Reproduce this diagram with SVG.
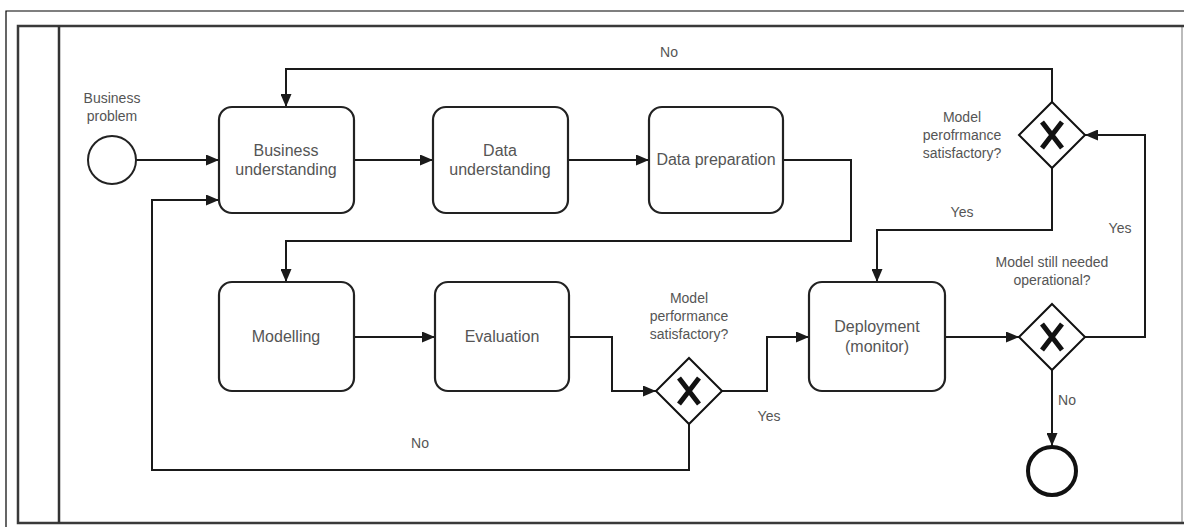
<svg xmlns="http://www.w3.org/2000/svg" width="1184" height="527" viewBox="0 0 1184 527">
<style>
.thin{fill:none;stroke:#000;stroke-width:1.2}
.task{fill:#fff;stroke:#222;stroke-width:2.2}
.gw{fill:#fff;stroke:#111;stroke-width:2}
.gx{fill:none;stroke:#111;stroke-width:5;stroke-linecap:butt}
.ev{fill:#fff;stroke:#222;stroke-width:2}
.evend{fill:#fff;stroke:#111;stroke-width:4}
.edge{fill:none;stroke:#1a1a1a;stroke-width:2}
.t{font-family:"Liberation Sans",Arial,sans-serif;font-size:16px;fill:#555;text-anchor:middle}
.l{font-family:"Liberation Sans",Arial,sans-serif;font-size:14px;fill:#555;text-anchor:middle}
</style>
<defs>
<marker id="arr" viewBox="0 0 13 11" refX="13" refY="5.5" markerWidth="13" markerHeight="11" markerUnits="userSpaceOnUse" orient="auto">
<path d="M0,0 L13,5.5 L0,11 Z" fill="#1a1a1a"/>
</marker>
</defs>
<rect width="1184" height="527" fill="#fff"/>
<g id="pool">
<path class="thin" d="M6,527 V11 H1184"/>
<line x1="1182" y1="26" x2="1182" y2="523" stroke="#bbb" stroke-width="2"/>
<path d="M1184,26 H18 V523 H1184" fill="none" stroke="#3a3a3a" stroke-width="2.5"/>
<line x1="59" y1="26" x2="59" y2="523" stroke="#333" stroke-width="2.5"/>
</g>
<g id="connectors">
<path class="edge" marker-end="url(#arr)" d="M136,160 H219"/>
<path class="edge" marker-end="url(#arr)" d="M354,160 H433"/>
<path class="edge" marker-end="url(#arr)" d="M568,160 H649"/>
<path class="edge" marker-end="url(#arr)" d="M783,160 H851 V241 H286 V282"/>
<path class="edge" marker-end="url(#arr)" d="M354,337 H435"/>
<path class="edge" marker-end="url(#arr)" d="M569,337 H612 V391 H656"/>
<path class="edge" marker-end="url(#arr)" d="M722,391 H767 V337 H809"/>
<path class="edge" marker-end="url(#arr)" d="M689,424 V470 H152 V200 H219"/>
<path class="edge" marker-end="url(#arr)" d="M945,337 H1019"/>
<path class="edge" marker-end="url(#arr)" d="M1052,370 V446"/>
<path class="edge" marker-end="url(#arr)" d="M1085,337 H1145 V135 H1085"/>
<path class="edge" marker-end="url(#arr)" d="M1052,102 V69 H286 V107"/>
<path class="edge" marker-end="url(#arr)" d="M1052,168 V230 H877 V282"/>
<text class="l" x="669" y="57">No</text>
<text class="l" x="962" y="217">Yes</text>
<text class="l" x="1120" y="233">Yes</text>
<text class="l" x="769" y="421">Yes</text>
<text class="l" x="420" y="448">No</text>
<text class="l" x="1067" y="405">No</text>
</g>
<g id="start">
<circle class="ev" cx="112" cy="160" r="24"/>
<text class="l" x="112" y="103">Business</text>
<text class="l" x="112" y="121">problem</text>
</g>
<g id="business-understanding">
<rect class="task" x="219" y="107" width="135" height="106" rx="13"/>
<text class="t" x="286" y="156">Business</text>
<text class="t" x="286" y="175">understanding</text>
</g>
<g id="data-understanding">
<rect class="task" x="433" y="107" width="135" height="106" rx="13"/>
<text class="t" x="500" y="156">Data</text>
<text class="t" x="500" y="175">understanding</text>
</g>
<g id="data-preparation">
<rect class="task" x="649" y="107" width="134" height="106" rx="13"/>
<text class="t" x="716" y="165">Data preparation</text>
</g>
<g id="modelling">
<rect class="task" x="219" y="282" width="135" height="109" rx="13"/>
<text class="t" x="286" y="342">Modelling</text>
</g>
<g id="evaluation">
<rect class="task" x="435" y="282" width="134" height="109" rx="13"/>
<text class="t" x="502" y="342">Evaluation</text>
</g>
<g id="deployment">
<rect class="task" x="809" y="282" width="136" height="109" rx="13"/>
<text class="t" x="877" y="332">Deployment</text>
<text class="t" x="877" y="352">(monitor)</text>
</g>
<g id="gateway-eval">
<path class="gw" d="M689,358 L722,391 L689,424 L656,391 Z"/>
<path class="gx" d="M679,378 L699,404 M699,378 L679,404"/>
<text class="l" x="689" y="303">Model</text>
<text class="l" x="689" y="321">performance</text>
<text class="l" x="689" y="339">satisfactory?</text>
</g>
<g id="gateway-operational">
<path class="gw" d="M1052,304 L1085,337 L1052,370 L1019,337 Z"/>
<path class="gx" d="M1042,324 L1062,350 M1062,324 L1042,350"/>
<text class="l" x="1052" y="267">Model still needed</text>
<text class="l" x="1052" y="285">operational?</text>
</g>
<g id="gateway-monitor">
<path class="gw" d="M1052,102 L1085,135 L1052,168 L1019,135 Z"/>
<path class="gx" d="M1042,122 L1062,148 M1062,122 L1042,148"/>
<text class="l" x="962" y="122">Model</text>
<text class="l" x="962" y="140">perofrmance</text>
<text class="l" x="962" y="158">satisfactory?</text>
</g>
<g id="end">
<circle class="evend" cx="1052" cy="471" r="24"/>
</g>
</svg>
